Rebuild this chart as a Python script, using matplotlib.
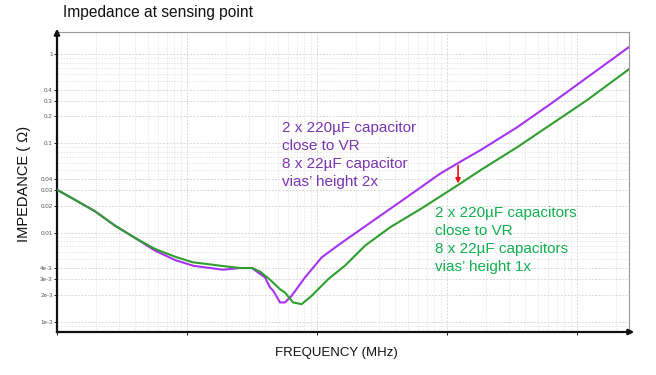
import numpy as np
import matplotlib.pyplot as plt
from matplotlib.ticker import FixedLocator, NullFormatter, LogLocator

plt.rcParams['font.family'] = ['Liberation Sans', 'DejaVu Sans']

# frequency (MHz) and impedance (ohm)
freq_1x = [0.001, 0.001375, 0.00196, 0.00279, 0.00398, 0.00568, 0.00809, 0.01112, 0.01259,
           0.01795, 0.0256, 0.0316, 0.0365, 0.0435, 0.0519, 0.0567, 0.0654, 0.0762, 0.091,
           0.1222, 0.164, 0.234, 0.365, 0.658, 1.259, 1.795, 3.45, 11.9, 25.1]
imp_1x = [0.0302, 0.0233, 0.01734, 0.01199, 0.00872, 0.00656, 0.00537, 0.00464, 0.00455,
          0.00426, 0.00401, 0.00401, 0.00365, 0.00297, 0.00232, 0.00213, 0.00165, 0.00158,
          0.00196, 0.00302, 0.00426, 0.00714, 0.01147, 0.01924, 0.0353, 0.0497, 0.0902,
          0.304, 0.678]

freq_2x = [0.001, 0.001375, 0.00196, 0.00279, 0.00398, 0.00568, 0.00809, 0.01112, 0.01259,
           0.0189, 0.0256, 0.0316, 0.0365, 0.0398, 0.0435, 0.0461, 0.0519, 0.0567, 0.0638,
           0.0809, 0.1087, 0.150, 0.271, 0.490, 0.883, 1.259, 1.795, 3.45, 6.53, 25.1]
imp_2x = [0.0302, 0.0233, 0.01734, 0.01199, 0.00872, 0.00628, 0.00493, 0.00426, 0.00415,
          0.00384, 0.00401, 0.00401, 0.00344, 0.00315, 0.00243, 0.00223, 0.00165, 0.00165,
          0.00196, 0.00315, 0.00528, 0.00746, 0.01364, 0.0249, 0.0457, 0.062, 0.0834,
          0.151, 0.289, 1.2]

ytick_vals = [1e-3, 2e-3, 3e-3, 4e-3, 0.01, 0.02, 0.03, 0.04, 0.1, 0.2, 0.3, 0.4, 1]
ytick_labels = ['1e-3', '2e-3', '3e-3', '4e-3', '0.01', '0.02', '0.03', '0.04',
                '0.1', '0.2', '0.3', '0.4', '1']

label_2x = "2 x 220\u00b5F capacitor\nclose to VR\n8 x 22\u00b5F capacitor\nvias\u2019 height 2x"
label_1x = "2 x 220\u00b5F capacitors\nclose to VR\n8 x 22\u00b5F capacitors\nvias\u2019 height 1x"

fig = plt.figure(figsize=(6.56, 3.75), dpi=100)
ax = fig.add_axes([0.0869, 0.1147, 0.872, 0.8])

ax.plot(freq_2x, imp_2x, color='#a633f0', lw=1.5, zorder=3, solid_joinstyle='round')
ax.plot(freq_1x, imp_1x, color='#2f9e2f', lw=1.5, zorder=4, solid_joinstyle='round')

ax.set_xscale('log')
ax.set_yscale('log')
ax.set_xlim(1e-3, 10 ** 1.4)
ax.set_ylim(7.7e-4, 1.77)

ax.yaxis.set_major_locator(FixedLocator(ytick_vals))
ax.set_yticklabels(ytick_labels)
ax.yaxis.set_minor_locator(LogLocator(base=10, subs=np.arange(2, 10)))
ax.yaxis.set_minor_formatter(NullFormatter())
ax.xaxis.set_major_locator(LogLocator(base=10))
ax.xaxis.set_minor_locator(LogLocator(base=10, subs=np.arange(2, 10)))
ax.xaxis.set_major_formatter(NullFormatter())
ax.xaxis.set_minor_formatter(NullFormatter())
ax.tick_params(axis='y', which='major', labelsize=4.5, labelcolor='#555555', length=2, width=0.6, pad=1)
ax.tick_params(axis='y', which='minor', length=0)
ax.tick_params(axis='x', which='major', length=2, width=0.6)
ax.tick_params(axis='x', which='minor', length=0)

ax.grid(True, which='major', color='#d8d8d8', lw=0.7, ls=(0, (2, 1.5)))
ax.grid(True, which='minor', color='#e6e6e6', lw=0.6, ls=(0, (2, 1.5)))

for s in ['top', 'right']:
    ax.spines[s].set_color('#999999')
    ax.spines[s].set_linewidth(0.8)
for s in ['left', 'bottom']:
    ax.spines[s].set_color('#111111')
    ax.spines[s].set_linewidth(1.6)

# axis arrows
ax.annotate('', xy=(0, 1.02), xytext=(0, 0.98), xycoords='axes fraction',
            arrowprops=dict(arrowstyle='-|>', color='#111111', lw=1.6, mutation_scale=8),
            annotation_clip=False)
ax.annotate('', xy=(1.014, 0), xytext=(0.99, 0), xycoords='axes fraction',
            arrowprops=dict(arrowstyle='-|>', color='#111111', lw=1.6, mutation_scale=8),
            annotation_clip=False)

# red arrow between curves
ax.annotate('', xy=(1.216, 0.0355), xytext=(1.216, 0.0566),
            arrowprops=dict(arrowstyle='-|>', color='#ee1111', lw=1.2, mutation_scale=7,
                            shrinkA=0, shrinkB=0),
            zorder=5)

ax.text(0.394, 0.703, label_2x, transform=ax.transAxes, color='#7a35b0',
        fontsize=11, linespacing=1.36, va='top', ha='left')
ax.text(0.66, 0.42, label_1x, transform=ax.transAxes, color='#12b050',
        fontsize=11, linespacing=1.36, va='top', ha='left')

fig.text(63 / 656, 1 - 17 / 375, 'Impedance at sensing point', fontsize=11.2,
         ha='left', va='baseline', color='#111111')
fig.text(24 / 656, 1 - 184 / 375, 'IMPEDANCE ( \u03a9)', rotation=90, fontsize=10.5,
         ha='center', va='center', color='#111111')
fig.text(336 / 656, 1 - 353 / 375, 'FREQUENCY (MHz)', fontsize=9.5,
         ha='center', va='center', color='#111111')

fig.savefig('out.png', dpi=100)
